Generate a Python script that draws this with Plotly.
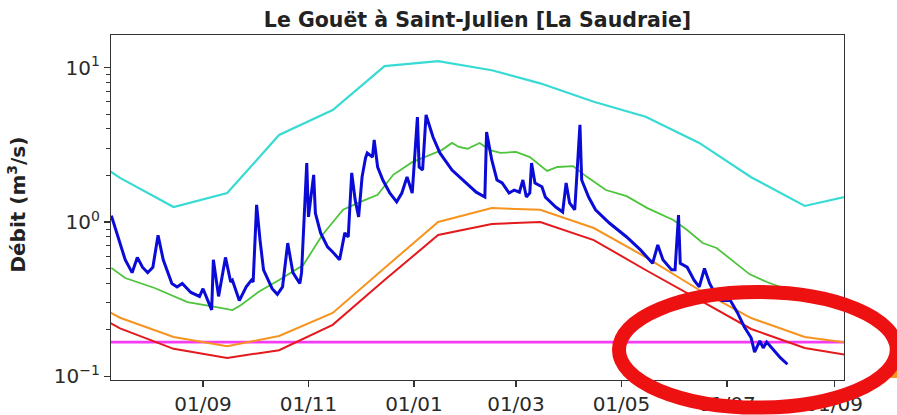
import plotly.graph_objects as go

# ---------------- data ----------------
TITLE = "Le Gouët à Saint-Julien [La Saudraie]"
Y_LABEL = "Débit (m<sup>3</sup>/s)"

# monthly reference statistics (plotted at mid-month)
MONTHS = ["2022-06-15", "2022-07-15", "2022-08-15", "2022-09-15", "2022-10-15",
          "2022-11-15", "2022-12-15", "2023-01-15", "2023-02-15", "2023-03-15",
          "2023-04-15", "2023-05-15", "2023-06-15", "2023-07-15", "2023-08-15",
          "2023-09-15"]
CYAN_VALUES = [3.25, 1.93, 1.25, 1.54, 3.66, 5.31, 10.2, 11.0, 9.6, 7.9,
               6.0, 4.8, 3.25, 1.95, 1.27, 1.52]
ORANGE_VALUES = [0.363, 0.24, 0.18, 0.157, 0.183, 0.258, 0.504, 1.0, 1.23, 1.20,
                 0.914, 0.593, 0.363, 0.239, 0.18, 0.162]
RED_VALUES = [0.313, 0.205, 0.151, 0.132, 0.148, 0.216, 0.421, 0.824, 0.97, 1.0,
              0.764, 0.489, 0.313, 0.203, 0.153, 0.134]

GREEN_DATES = ["2022-07-10", "2022-07-18", "2022-08-04", "2022-08-23", "2022-09-08",
               "2022-09-18", "2022-09-23", "2022-10-03", "2022-10-15", "2022-10-29",
               "2022-11-09", "2022-11-21", "2022-12-01", "2022-12-11", "2022-12-20",
               "2022-12-31", "2023-01-10", "2023-01-17", "2023-01-23", "2023-01-27",
               "2023-02-01", "2023-02-08", "2023-02-14", "2023-02-20", "2023-03-01",
               "2023-03-09", "2023-03-19", "2023-03-25", "2023-04-03", "2023-04-11",
               "2023-04-22", "2023-05-04", "2023-05-16", "2023-05-31", "2023-06-08",
               "2023-06-17", "2023-06-25", "2023-07-04", "2023-07-14", "2023-07-24",
               "2023-08-06", "2023-08-21", "2023-09-06"]
GREEN_VALUES = [0.504, 0.434, 0.374, 0.303, 0.282, 0.269, 0.290, 0.352, 0.421, 0.527,
                0.824, 1.20, 1.35, 1.50, 2.02, 2.44, 2.71, 2.92, 3.25, 3.06,
                2.98, 3.25, 2.92, 2.80, 2.84, 2.63, 2.14, 2.27, 2.30, 1.96,
                1.61, 1.47, 1.23, 1.03, 0.888, 0.731, 0.679, 0.568, 0.46, 0.409,
                0.363, 0.322, 0.290]

THRESHOLD_DATES = ["2022-07-01", "2023-09-30"]
THRESHOLD_VALUES = [0.167, 0.167]

FLOW_DATES = ["2022-07-10", "2022-07-13", "2022-07-18", "2022-07-22", "2022-07-25",
              "2022-07-28", "2022-07-31", "2022-08-03", "2022-08-06", "2022-08-09",
              "2022-08-14", "2022-08-17", "2022-08-20", "2022-08-25", "2022-08-30",
              "2022-09-01", "2022-09-04", "2022-09-06", "2022-09-07", "2022-09-10",
              "2022-09-14", "2022-09-17", "2022-09-18", "2022-09-22", "2022-09-26",
              "2022-09-29", "2022-09-30", "2022-10-02", "2022-10-04", "2022-10-06",
              "2022-10-11", "2022-10-14", "2022-10-17", "2022-10-20", "2022-10-23",
              "2022-10-27", "2022-10-28", "2022-10-31", "2022-11-01", "2022-11-04",
              "2022-11-05", "2022-11-08", "2022-11-12", "2022-11-15", "2022-11-19",
              "2022-11-22", "2022-11-24", "2022-11-26", "2022-11-28", "2022-11-30",
              "2022-12-02", "2022-12-04", "2022-12-05", "2022-12-08", "2022-12-09",
              "2022-12-11", "2022-12-14", "2022-12-18", "2022-12-22", "2022-12-25",
              "2022-12-28", "2022-12-31", "2023-01-03", "2023-01-04", "2023-01-06",
              "2023-01-08", "2023-01-12", "2023-01-16", "2023-01-23", "2023-01-31",
              "2023-02-06", "2023-02-11", "2023-02-12", "2023-02-15", "2023-02-18",
              "2023-02-21", "2023-02-25", "2023-02-28", "2023-03-03", "2023-03-05",
              "2023-03-07", "2023-03-09", "2023-03-10", "2023-03-12", "2023-03-16",
              "2023-03-18", "2023-03-24", "2023-03-28", "2023-03-30", "2023-04-01",
              "2023-04-04", "2023-04-07", "2023-04-08", "2023-04-12", "2023-04-16",
              "2023-04-24", "2023-05-04", "2023-05-12", "2023-05-19", "2023-05-22",
              "2023-05-25", "2023-05-30", "2023-06-01", "2023-06-03", "2023-06-04",
              "2023-06-08", "2023-06-12", "2023-06-15", "2023-06-18", "2023-06-21",
              "2023-06-25", "2023-06-28", "2023-07-03", "2023-07-07", "2023-07-11",
              "2023-07-15", "2023-07-17", "2023-07-20", "2023-07-22", "2023-07-24",
              "2023-07-27", "2023-07-29", "2023-08-01", "2023-08-05"]
FLOW_VALUES = [1.10, 0.85, 0.57, 0.47, 0.59, 0.51, 0.47, 0.51, 0.82, 0.57,
               0.40, 0.38, 0.40, 0.35, 0.33, 0.37, 0.31, 0.27, 0.57, 0.33,
               0.59, 0.41, 0.42, 0.31, 0.38, 0.42, 0.41, 1.29, 0.76, 0.49,
               0.37, 0.34, 0.38, 0.73, 0.47, 0.40, 0.47, 2.41, 1.08, 2.02,
               1.14, 0.85, 0.69, 0.64, 0.57, 0.85, 0.80, 2.08, 1.39, 1.08,
               1.96, 2.60, 2.80, 2.63, 3.40, 2.27, 1.87, 1.54, 1.35, 1.54,
               1.96, 1.54, 4.78, 2.27, 2.17, 4.93, 3.55, 2.80, 2.17, 1.79,
               1.56, 1.45, 3.82, 2.52, 1.87, 1.79, 1.54, 1.61, 1.56, 1.87,
               1.45, 1.54, 2.41, 1.79, 1.69, 1.45, 1.25, 1.16, 1.79, 1.33,
               1.20, 4.25, 1.87, 1.45, 1.20, 0.985, 0.80, 0.66, 0.54, 0.71,
               0.57, 0.49, 0.49, 1.11, 0.54, 0.51, 0.42, 0.38, 0.50, 0.40,
               0.33, 0.31, 0.31, 0.26, 0.21, 0.178, 0.144, 0.17, 0.153, 0.167,
               0.153, 0.142, 0.132, 0.12]

X_TICK_DATES = ["2022-09-01", "2022-11-01", "2023-01-01", "2023-03-01",
                "2023-05-01", "2023-07-01", "2023-09-01"]
X_TICK_LABELS = ["01/09", "01/11", "01/01", "01/03", "01/05", "01/07", "01/09"]
Y_TICK_VALUES = [0.1, 1, 10]
Y_TICK_LABELS = ["10<sup>−1</sup>", "10<sup>0</sup>", "10<sup>1</sup>"]
Y_MINOR_VALUES = [m * d for d in (0.1, 1) for m in range(2, 10)]

X_RANGE = ["2022-07-09 19:00", "2023-09-06 17:00"]
Y_RANGE_LOG = [-1.0227, 1.2104]

# ---------------- figure ----------------
FONT = "DejaVu Sans"
fig = go.Figure()

def add_line(x, y, color, width):
    fig.add_trace(go.Scatter(x=x, y=y, mode="lines",
                             line=dict(color=color, width=width),
                             hoverinfo="skip", showlegend=False))

add_line(MONTHS, CYAN_VALUES, "#38DAD4", 2.2)
add_line(GREEN_DATES, GREEN_VALUES, "#4DC43C", 1.8)
add_line(THRESHOLD_DATES, THRESHOLD_VALUES, "#F53CF5", 2.6)
add_line(MONTHS, ORANGE_VALUES, "#F7931E", 2.0)
add_line(MONTHS, RED_VALUES, "#E4191C", 2.0)
add_line(FLOW_DATES, FLOW_VALUES, "#0B0BD8", 3.0)

axis_common = dict(showline=True, linecolor="#333333", linewidth=1.2, mirror=True,
                   showgrid=False, zeroline=False, ticks="outside", ticklen=6,
                   tickwidth=1.2, tickcolor="#333333", automargin=False,
                   tickfont=dict(family=FONT, size=20, color="#2a2a2a"))

fig.update_xaxes(type="date", range=X_RANGE, tickmode="array",
                 tickvals=X_TICK_DATES, ticktext=X_TICK_LABELS, **axis_common)
fig.update_yaxes(type="log", range=Y_RANGE_LOG, tickmode="array",
                 tickvals=Y_TICK_VALUES, ticktext=Y_TICK_LABELS,
                 minor=dict(tickmode="array", tickvals=Y_MINOR_VALUES,
                            ticks="outside", ticklen=3.5, tickwidth=1,
                            tickcolor="#333333", showgrid=False),
                 **axis_common)

fig.update_layout(
    width=897, height=415,
    margin=dict(l=111, r=53, t=35, b=35),
    paper_bgcolor="white", plot_bgcolor="white",
    title=dict(text="<b>" + TITLE + "</b>", x=0.5, xref="paper",
               y=1 - 20 / 415, yref="container", yanchor="middle",
               font=dict(family=FONT, size=20.5, color="#222222")),
    annotations=[dict(text="<b>" + Y_LABEL + "</b>", textangle=-90,
                      x=-0.128, y=0.509, xref="paper", yref="paper",
                      xanchor="center", yanchor="middle", showarrow=False,
                      font=dict(family=FONT, size=20, color="#222222"))],
    shapes=[
        dict(type="rect", xref="paper", yref="paper",
             x0=1.056, x1=1.075, y0=0.006, y1=0.032,
             fillcolor="#F7931E", line=dict(width=0), layer="above"),
        dict(type="circle", xref="paper", yref="paper",
             x0=0.693, x1=1.072, y0=-0.08, y1=0.255,
             line=dict(color="#EE1111", width=14), layer="above"),
    ],
)

fig.write_html("out.html",
               config={"displayModeBar": False, "staticPlot": True},
               post_script="document.body.style.margin='0px';"
                           "document.body.style.overflow='hidden';")
